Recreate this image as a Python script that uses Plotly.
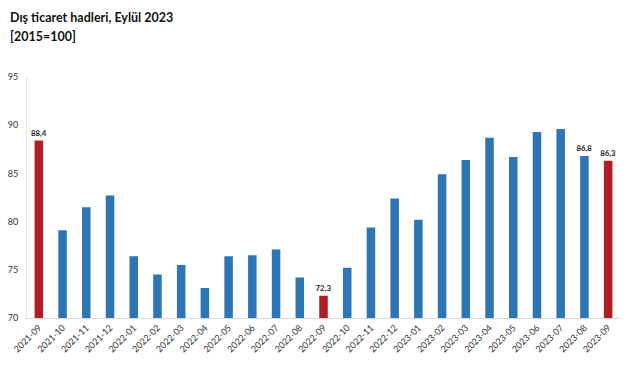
import plotly.graph_objects as go

months = ["2021-09","2021-10","2021-11","2021-12","2022-01","2022-02","2022-03","2022-04",
          "2022-05","2022-06","2022-07","2022-08","2022-09","2022-10","2022-11","2022-12",
          "2023-01","2023-02","2023-03","2023-04","2023-05","2023-06","2023-07","2023-08","2023-09"]
values = [88.4, 79.1, 81.5, 82.7, 76.4, 74.5, 75.5, 73.1,
          76.4, 76.5, 77.1, 74.2, 72.3, 75.2, 79.4, 82.4,
          80.2, 84.9, 86.4, 88.7, 86.7, 89.3, 89.6, 86.8, 86.3]
highlight = ["2021-09", "2022-09", "2023-09"]
labelled = {"2021-09": "88,4", "2022-09": "72,3", "2023-08": "86,8", "2023-09": "86,3"}
y_ticks = [70, 75, 80, 85, 90, 95]

BLUE = "#2E75B6"
RED = "#B01E23"
colors = [RED if m in highlight else BLUE for m in months]
texts = [labelled.get(m, "") for m in months]

TOP, BOT = 69, 70
PH = 380 - TOP - BOT

fig = go.Figure(go.Bar(
    x=months, y=values, marker=dict(color=colors, line=dict(width=0)),
    text=texts, textposition="outside", cliponaxis=False, constraintext="none",
    textfont=dict(size=7.8, color="#222222", family="Lato"),
    texttemplate="<b>%{text}</b>", width=0.36,
))

fig.update_layout(
    width=641, height=380,
    margin=dict(l=19, r=29, t=TOP, b=BOT, autoexpand=False),
    plot_bgcolor="white", paper_bgcolor="white",
    showlegend=False,
    font=dict(family="Lato", color="#333333"),
    xaxis=dict(type="category", tickangle=-45, tickfont=dict(size=9, color="#333333"),
               showline=True, linecolor="#D9D9D9", linewidth=1, ticks="", showgrid=False,
               automargin=False),
    yaxis=dict(range=[70, 95], tickvals=y_ticks, tickfont=dict(size=9, color="#333333"),
               showline=True, linecolor="#E6E6E6", linewidth=1, showgrid=False,
               ticks="", zeroline=False, ticklabelstandoff=6, automargin=False),
    annotations=[
        dict(text="<b>Dış ticaret hadleri, Eylül 2023</b>", xref="paper", yref="paper",
             x=0, xshift=-19, y=(380 - BOT - 9) / PH, xanchor="left", yanchor="middle",
             showarrow=False, font=dict(size=12.5, color="#111111", family="Lato")),
        dict(text="<b>[2015=100]</b>", xref="paper", yref="paper",
             x=0, xshift=-19, y=(380 - BOT - 29) / PH, xanchor="left", yanchor="middle",
             showarrow=False, font=dict(size=12.5, color="#111111", family="Lato")),
    ],
)

fig.write_html("out.html")
